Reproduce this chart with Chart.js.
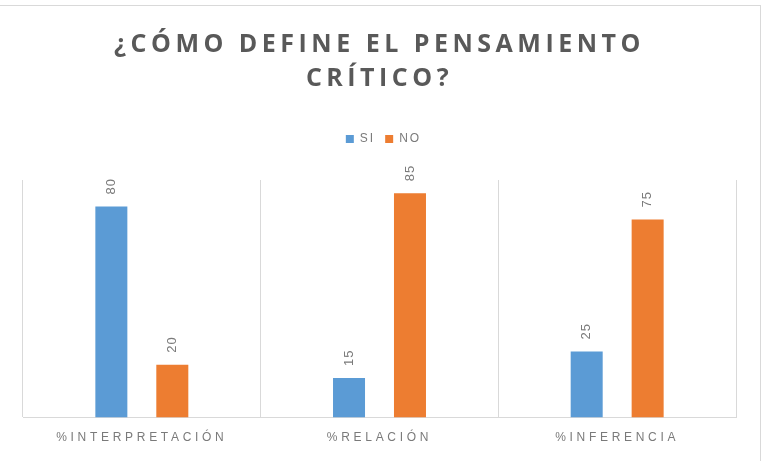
<!DOCTYPE html>
<html>
<head>
<meta charset="utf-8">
<script src="https://cdn.jsdelivr.net/npm/chart.js@4.4.1/dist/chart.umd.min.js"></script>
<style>
  html, body { margin: 0; padding: 0; background: #fff; overflow: hidden; }
  #wrap { position: relative; width: 768px; height: 461px; }
  #frame { position: absolute; left: -1px; top: 5px; width: 760px; height: 470px; border: 1px solid #d9d9d9; }
  canvas { position: absolute; left: 0; top: 0; }
</style>
</head>
<body>
<div id="wrap">
  <div id="frame"></div>
  <canvas id="chart" width="768" height="461"></canvas>
</div>
<script>
// DATA
const categories = ['%INTERPRETACIÓN', '%RELACIÓN', '%INFERENCIA'];
const seriesNames = ['SI', 'NO'];
const siValues = [80, 15, 25];
const noValues = [20, 85, 75];
const titleLines = ['¿CÓMO DEFINE EL PENSAMIENTO', 'CRÍTICO?'];

const blue = '#5b9bd5';
const orange = '#ed7d31';
const gray = '#7a7a7a';

// wrap a draw function so text gets wider letter spacing (like excel)
function spaced(obj, fn, spacing) {
  if (!obj || obj['_sp_' + fn]) return;
  const orig = obj[fn];
  obj[fn] = function (...args) {
    const ctx = this.ctx;
    ctx.save();
    ctx.letterSpacing = spacing;
    orig.apply(this, args);
    ctx.restore();
  };
  obj['_sp_' + fn] = true;
}

// legend needs extra room below it before the plot starts
const legendGap = {
  id: 'legendGap',
  beforeLayout(chart) {
    const lg = chart.legend;
    if (lg && !lg._gap) {
      const fit = lg.fit;
      lg.fit = function () {
        fit.call(this);
        this.height += 25;
      };
      lg._gap = true;
    }
  },
  beforeDraw(chart) {
    spaced(chart.titleBlock, 'draw', '4.5px');
    spaced(chart.legend, 'draw', '2px');
    spaced(chart.scales.x, 'drawLabels', '3.7px');
  }
};

// values written vertically above each bar
const barLabels = {
  id: 'barLabels',
  afterDatasetsDraw(chart) {
    const ctx = chart.ctx;
    chart.data.datasets.forEach((ds, i) => {
      chart.getDatasetMeta(i).data.forEach((bar, j) => {
        ctx.save();
        ctx.translate(bar.x, bar.y - 12);
        ctx.rotate(-Math.PI / 2);
        ctx.font = '13px "Liberation Sans", Arial, sans-serif';
        ctx.fillStyle = gray;
        ctx.letterSpacing = '1px';
        ctx.textAlign = 'left';
        ctx.textBaseline = 'middle';
        ctx.fillText(String(ds.data[j]), 0, 0);
        ctx.restore();
      });
    });
  }
};

const ctx = document.getElementById('chart').getContext('2d');
new Chart(ctx, {
  type: 'bar',
  data: {
    labels: categories,
    datasets: [
      { label: seriesNames[0], data: siValues, backgroundColor: blue },
      { label: seriesNames[1], data: noValues, backgroundColor: orange }
    ]
  },
  options: {
    responsive: false,
    animation: false,
    devicePixelRatio: 1,
    categoryPercentage: 0.513,
    barPercentage: 0.525,
    layout: { padding: { left: 23, right: 32, top: 0, bottom: 3 } },
    plugins: {
      title: {
        display: true,
        text: titleLines,
        color: '#595959',
        font: { family: '"Open Sans", "Liberation Sans", sans-serif', size: 25, weight: 'bold', lineHeight: 34 / 25 },
        padding: { top: 28, bottom: 27 }
      },
      legend: {
        display: true,
        position: 'top',
        labels: {
          color: gray,
          boxWidth: 8,
          boxHeight: 8,
          padding: 10,
          font: { family: '"Liberation Sans", Arial, sans-serif', size: 12 }
        }
      },
      tooltip: { enabled: false }
    },
    scales: {
      x: {
        grid: { color: '#d9d9d9', offset: true, drawTicks: false },
        border: { color: '#d9d9d9' },
        ticks: {
          color: gray,
          padding: 13,
          maxRotation: 0,
          minRotation: 0,
          autoSkip: false,
          font: { family: '"Liberation Sans", Arial, sans-serif', size: 12 }
        }
      },
      y: {
        display: false,
        min: 0,
        max: 90
      }
    }
  },
  plugins: [legendGap, barLabels]
});
</script>
</body>
</html>
